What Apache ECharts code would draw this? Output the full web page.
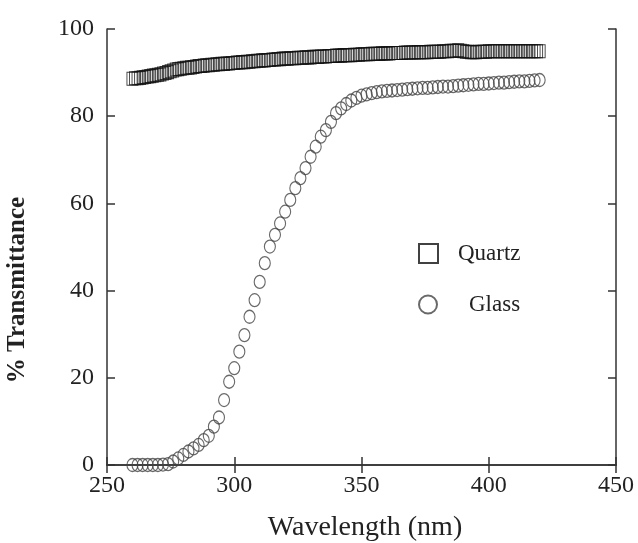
<!DOCTYPE html>
<html>
<head>
<meta charset="utf-8">
<script src="https://cdn.jsdelivr.net/npm/echarts@6/dist/echarts.min.js"></script>
<style>html,body{margin:0;padding:0;background:#fff}#c{width:638px;height:543px}</style>
</head>
<body>
<div id="c"></div>
<script>
// Data
const quartzWavelength = [
260,261,262,263,264,265,266,267,268,269,
270,271,272,273,274,275,276,277,278,279,
280,281,282,283,284,285,286,287,288,289,
290,291,292,293,294,295,296,297,298,299,
300,301,302,303,304,305,306,307,308,309,
310,311,312,313,314,315,316,317,318,319,
320,321,322,323,324,325,326,327,328,329,
330,331,332,333,334,335,336,337,338,339,
340,341,342,343,344,345,346,347,348,349,
350,351,352,353,354,355,356,357,358,359,
360,361,362,363,364,365,366,367,368,369,
370,371,372,373,374,375,376,377,378,379,
380,381,382,383,384,385,386,387,388,389,
390,391,392,393,394,395,396,397,398,399,
400,401,402,403,404,405,406,407,408,409,
410,411,412,413,414,415,416,417,418,419,420];
const quartzT = [
88.6,88.7,88.7,88.8,88.9,89.0,89.1,89.2,89.3,89.4,
89.5,89.6,89.8,89.9,90.1,90.3,90.5,90.7,90.8,90.9,
91.0,91.1,91.1,91.2,91.3,91.4,91.5,91.5,91.6,91.7,
91.7,91.8,91.8,91.9,91.9,92.0,92.0,92.1,92.1,92.2,
92.2,92.3,92.3,92.4,92.4,92.5,92.5,92.6,92.6,92.7,
92.7,92.8,92.8,92.9,92.9,93.0,93.0,93.1,93.1,93.2,
93.2,93.2,93.3,93.3,93.3,93.4,93.4,93.4,93.5,93.5,
93.5,93.6,93.6,93.6,93.7,93.7,93.7,93.8,93.8,93.8,
93.9,93.9,93.9,94.0,94.0,94.0,94.0,94.1,94.1,94.1,
94.2,94.2,94.2,94.2,94.3,94.3,94.3,94.3,94.4,94.4,
94.4,94.4,94.5,94.5,94.5,94.5,94.5,94.6,94.6,94.6,
94.6,94.6,94.7,94.7,94.7,94.7,94.7,94.8,94.8,94.8,
94.8,94.8,94.9,94.9,94.9,95.0,95.0,95.0,95.1,95.0,
94.9,94.8,94.8,94.7,94.7,94.7,94.8,94.8,94.8,94.8,
94.9,94.9,94.9,94.9,94.9,94.9,94.9,94.9,94.9,94.9,
94.9,94.9,94.9,94.9,94.9,94.9,94.9,94.9,94.9,94.9,94.9];
const glassWavelength = [
260,262,264,266,268,270,272,274,276,278,
280,282,284,286,288,290,292,294,296,298,
300,302,304,306,308,310,312,314,316,318,
320,322,324,326,328,330,332,334,336,338,
340,342,344,346,348,350,352,354,356,358,
360,362,364,366,368,370,372,374,376,378,
380,382,384,386,388,390,392,394,396,398,
400,402,404,406,408,410,412,414,416,418,420];
const glassT = [
0,0,0,0,0,0,0.1,0.2,0.8,1.5,
2.3,3.1,3.8,4.6,5.7,6.7,8.8,10.9,14.9,19.1,
22.2,26.0,29.8,34.0,37.8,42.0,46.3,50.1,52.8,55.4,
58.1,60.8,63.5,65.8,68.1,70.7,73.0,75.3,76.8,78.7,
80.7,81.8,82.8,83.6,84.2,84.7,85.0,85.3,85.5,85.7,
85.8,85.9,86.0,86.1,86.2,86.3,86.4,86.5,86.5,86.6,
86.7,86.8,86.8,86.9,87.0,87.1,87.2,87.3,87.4,87.4,
87.5,87.6,87.7,87.7,87.8,87.9,88.0,88.0,88.1,88.2,88.3];
const seriesNames = ['Quartz', 'Glass'];
const xTitle = 'Wavelength (nm)';
const yTitle = '% Transmittance';

const FONT = 'Liberation Serif';
const ellipse = 'path://M0,-10 A10,10 0 1,1 0,10 A10,10 0 1,1 0,-10 Z';
const zipPts = (xs, ys) => xs.map((x, i) => [x, ys[i]]);

const axisLineStyle = { color: '#333', width: 1.5 };
const chart = echarts.init(document.getElementById('c'), null, { renderer: 'canvas' });
chart.setOption({
  animation: false,
  backgroundColor: '#fff',
  grid: { left: 107, right: 22, top: 29, bottom: 78 },
  xAxis: [
    { type: 'value', min: 250, max: 450, interval: 50, position: 'bottom',
      axisLine: { show: true, lineStyle: axisLineStyle },
      axisTick: { show: true, inside: true, length: 8, lineStyle: axisLineStyle },
      axisLabel: { fontFamily: FONT, fontSize: 24, color: '#222', margin: 9 },
      splitLine: { show: false } },
    { type: 'value', min: 250, max: 450, interval: 50, position: 'top',
      axisLine: { show: true, lineStyle: axisLineStyle },
      axisTick: { show: true, inside: true, length: 8, lineStyle: axisLineStyle },
      axisLabel: { show: false }, splitLine: { show: false } }
  ],
  yAxis: [
    { type: 'value', min: 0, max: 100, interval: 20, position: 'left',
      axisLine: { show: true, lineStyle: axisLineStyle },
      axisTick: { show: true, inside: true, length: 8, lineStyle: axisLineStyle },
      axisLabel: { fontFamily: FONT, fontSize: 24, color: '#222', margin: 13, padding: [0, 0, 10, 0] },
      splitLine: { show: false } },
    { type: 'value', min: 0, max: 100, interval: 20, position: 'right',
      axisLine: { show: true, lineStyle: axisLineStyle },
      axisTick: { show: true, inside: true, length: 8, lineStyle: axisLineStyle },
      axisLabel: { show: false }, splitLine: { show: false } }
  ],
  legend: [
    { data: [seriesNames[0]], left: 413, top: 237, itemWidth: 19, itemHeight: 19,
      textStyle: { fontFamily: FONT, fontSize: 23, color: '#222', padding: [0, 0, 0, 15] } },
    { data: [seriesNames[1]], left: 413, top: 288, itemWidth: 18, itemHeight: 22,
      textStyle: { fontFamily: FONT, fontSize: 23, color: '#222', padding: [0, 0, 0, 27] } }
  ],
  graphic: [
    { type: 'text', x: 365, y: 528,
      style: { text: xTitle, font: '28px "' + FONT + '"', fill: '#222', align: 'center', verticalAlign: 'middle' } },
    { type: 'text', x: 18, y: 290, rotation: Math.PI / 2,
      style: { text: yTitle, font: 'bold 25px "' + FONT + '"', fill: '#222', align: 'center', verticalAlign: 'middle' } }
  ],
  series: [
    { name: seriesNames[0], type: 'scatter', symbol: 'rect', symbolSize: [11, 13],
      data: zipPts(quartzWavelength, quartzT),
      itemStyle: { color: 'rgba(255,255,255,0)', borderColor: '#111', borderWidth: 1 } },
    { name: seriesNames[1], type: 'scatter', symbol: ellipse, symbolSize: [11, 13],
      data: zipPts(glassWavelength, glassT),
      itemStyle: { color: 'rgba(255,255,255,0)', borderColor: '#444', borderWidth: 1.2 } }
  ]
});
</script>
</body>
</html>
